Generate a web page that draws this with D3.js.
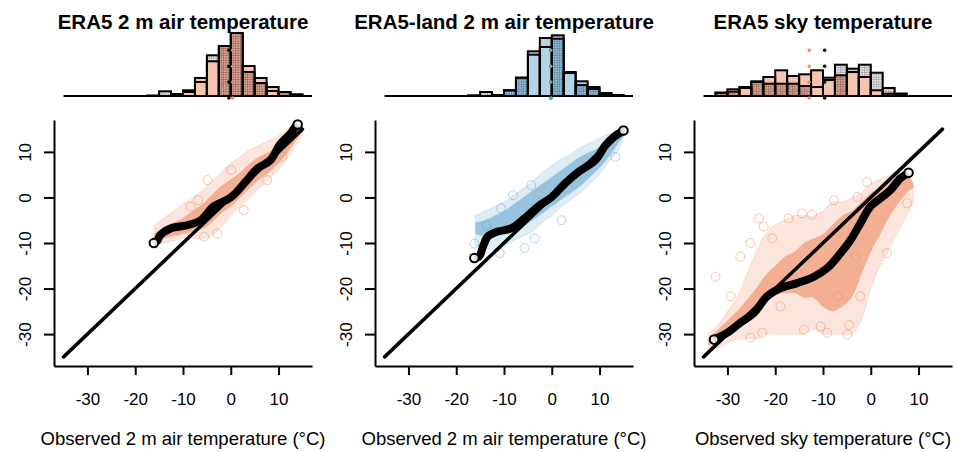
<!DOCTYPE html>
<html>
<head>
<meta charset="utf-8">
<script src="https://cdn.jsdelivr.net/npm/d3@7"></script>
<style>
body { margin: 0; background: #fff; }
text { font-family: "Liberation Sans", Arial, sans-serif; fill: #000; }
</style>
</head>
<body>
<svg id="fig" width="957" height="452"></svg>
<script>
// ---- data ----
var titles = ["ERA5 2 m air temperature", "ERA5-land 2 m air temperature", "ERA5 sky temperature"];
var xlabels = ["Observed 2 m air temperature (\u00B0C)", "Observed 2 m air temperature (\u00B0C)", "Observed sky temperature (\u00B0C)"];
var tickVals = [-30, -20, -10, 0, 10];

// histogram bins (left edges, width 2.5)
var bins12 = [-17.5, -15, -12.5, -10, -7.5, -5, -2.5, 0, 2.5, 5, 7.5, 10, 12.5];
var bins3 = [-32.5, -30, -27.5, -25, -22.5, -20, -17.5, -15, -12.5, -10, -7.5, -5, -2.5, 0, 2.5, 5];

var obsHist1  = [0.5, 4.7, 2, 4, 14, 40.7, 50, 63, 24, 13, 5, 4, 1.5];
var modHist1  = [0, 0, 1.5, 5.7, 18, 34.7, 50, 63, 30, 18, 9, 4, 1.5];
var darkHist1 = [0.5, 0, 2, 0, 0, 0, 50, 63, 24, 13, 0, 4, 1.5];

var obsHist2  = [0.7, 4, 1, 5.7, 18.3, 41.3, 49, 60.7, 23, 11, 7, 2, 1];
var modHist2  = [0, 0, 1, 5.7, 18.3, 44.7, 58, 57.3, 24, 14.7, 9, 3, 1];
var darkHist2 = [0.7, 0, 1, 5.7, 18.3, 0, 0, 57.3, 0, 11, 7, 0, 1];

var obsHist3  = [3.3, 4.3, 8, 14, 12.3, 12.3, 12.3, 10, 9, 18.3, 31.3, 27.3, 31.3, 23.3, 8, 2.3];
var modHist3  = [3.3, 6.7, 9, 14.7, 19, 25.7, 20, 21.7, 25.7, 16, 20.7, 24, 19, 5.7, 2.3, 2.3];
var darkHist3 = [3.3, 4.3, 0, 14, 12.3, 12.3, 12.3, 10, 0, 0, 20.7, 0, 0, 0, 2.3, 2.3];

// medians (observed, model)
var medObs = [-0.4, -0.2, -9.65];
var medMod = [0.4, -0.2, -12.9];

// point cloud envelopes: x, outer low, outer high, core low, core high
var cloudX1  = [-16, -14, -12, -10, -8, -6, -4, -2, 0, 2, 4, 6, 8, 10, 12, 14, 15];
var outerLo1 = [-10.5, -10, -9.5, -9, -9, -9, -8.5, -6.5, -4, -2, 0, 2, 4, 6, 9, 12, 14];
var outerHi1 = [-6, -4.5, -3, -1.5, 0, 1.5, 3.5, 5.5, 7.5, 9, 10.5, 11.5, 12.5, 13.5, 15, 16, 15.5];
var coreLo1  = [-9.5, -9, -8.5, -8, -7.5, -7, -5.5, -3.5, -2, 0, 2, 4, 5.5, 7.5, 10, 13, 14.5];
var coreHi1  = [-8, -6.5, -5.5, -4.5, -3, -1.5, 0.5, 2.5, 4, 5.5, 7.5, 9, 10, 11.5, 13.5, 15.5, 15];

var cloudX2  = [-16, -14, -12, -10, -8, -6, -4, -2, 0, 2, 4, 6, 8, 10, 12, 14, 15];
var outerLo2 = [-10.5, -11, -11.5, -10.5, -9.5, -8.5, -7.5, -5.5, -4, -2, -0.5, 1, 3, 5, 8, 10.5, 13];
var outerHi2 = [-4, -3, -2, -1, 0.5, 2, 3.5, 5.5, 7, 8.5, 9.5, 11, 12, 13, 14, 14.5, 14.5];
var coreLo2  = [-8, -8.5, -8.5, -8, -7.5, -6.5, -5, -3.5, -2, -0.5, 1, 2.5, 4.5, 6.5, 9, 12, 13.5];
var coreHi2  = [-5.5, -5, -4, -3, -1.5, 0, 1.5, 3, 4.5, 6, 7.5, 9, 10, 11, 12.5, 14, 14.5];

var cloudX3  = [-34, -32, -30, -28, -26, -24, -22, -20, -18, -16, -14, -12, -10, -8, -6, -4, -2, 0, 2, 4, 6, 8, 9];
var outerLo3 = [-33, -33, -32, -31, -31, -31, -30, -30, -30, -30, -30, -29, -30, -30, -30, -30, -27, -20, -15, -11, -7, -3, -1];
var outerHi3 = [-30, -28, -25, -22, -17, -12, -8, -6, -5, -4, -4, -4, -3, -1, -1, 0, 1, 3, 4, 5, 5.5, 4, 1];
var coreLo3  = [-32.5, -31, -29.5, -28, -27, -25, -23, -21.5, -21, -21, -22, -22, -24, -25, -24, -22, -17, -12, -8, -4, -1, 1.5, 2];
var coreHi3  = [-31, -29, -27, -25, -22.5, -20, -17, -15, -13, -12, -10, -9, -8, -6, -4, -3, -1, 1, 2, 3.5, 4.5, 4.5, 3];

// scattered single points outside the dense band
var outliers1 = [[-8.4, -2], [-2.8, -7.9], [-5.6, -8.6], [2.7, -2.8], [7.6, 3.8], [10.8, 8.9], [-6.8, -0.6], [-4.9, 3.8], [0.1, 6]];
var outliers2 = [[-16.2, -10.1], [-10.9, -12.2], [-5.7, -11.1], [-3.6, -9], [2, -5], [13.3, 8.9], [-8.1, 0.5], [-4.3, 2.7], [-13.7, -6.1], [-10.6, -2.4]];
var outliers3 = [[-32.5, -17.4], [-23.4, -4.6], [-25.2, -10], [-22.4, -6.4], [-20.6, -9], [-17.2, -4.6], [-14.4, -3.5], [-12.3, -3.8],
                 [-7.7, -0.6], [-2.8, 0.1], [-0.8, 3.4], [-3.2, -13], [-10.5, -28.3], [-9.1, -29.7], [-4.9, -30.1], [-4.5, -28],
                 [-22.7, -29.7], [-25.2, -30.8], [-14, -29], [3.4, -12.2], [7.6, -1.3], [-2.2, -21.7], [-7, -21.7], [-18.9, -23.9],
                 [-29.3, -21.7], [-27.3, -13]];

// quantile curves (observed vs model)
var qq1 = [[-16.1, -10], [-15.4, -9.5], [-14.7, -8.2], [-12.6, -6.8], [-9.1, -6.1], [-6.3, -5], [-3.6, -2], [0, 0], [3.4, 3.8],
           [5.5, 6.3], [8.3, 8.2], [10.4, 11.8], [12.5, 14], [13.5, 15.5], [14, 16]];
var qq2 = [[-16.2, -13.3], [-15.2, -13], [-14.4, -10.8], [-13.4, -8.6], [-11.3, -7.5], [-8.5, -6.8], [-5.7, -4.6], [-2.9, -2],
           [0, 0.1], [2.8, 3.1], [5.6, 5.6], [9.1, 8.2], [11.2, 11.4], [12.9, 13.2], [15, 14.7]];
var qq3 = [[-32.8, -31.2], [-30, -29.7], [-27.3, -27.5], [-24.5, -25.4], [-21.7, -21.7], [-18.9, -19.9], [-15.4, -18.8],
           [-11.9, -17.4], [-9.1, -15.5], [-6.3, -12.2], [-4.2, -9.3], [-2.2, -5.7], [-0.1, -2], [2, -0.2], [4.1, 1.6],
           [6.2, 4.2], [7.6, 5.2], [7.9, 5.4]];

var panels = [
  {left: 54,  col: "#ef8a62", bar: "#f7c4b0", hatch: "hatchBrown", bins: bins12, obs: obsHist1, mod: modHist1, dark: darkHist1,
   cx: cloudX1, oLo: outerLo1, oHi: outerHi1, cLo: coreLo1, cHi: coreHi1, out: outliers1, qq: qq1},
  {left: 375, col: "#67a9cf", bar: "#b3d4e7", hatch: "hatchBlue", bins: bins12, obs: obsHist2, mod: modHist2, dark: darkHist2,
   cx: cloudX2, oLo: outerLo2, oHi: outerHi2, cLo: coreLo2, cHi: coreHi2, out: outliers2, qq: qq2},
  {left: 694, col: "#ef8a62", bar: "#f7c4b0", hatch: "hatchBrown", bins: bins3, obs: obsHist3, mod: modHist3, dark: darkHist3,
   cx: cloudX3, oLo: outerLo3, oHi: outerHi3, cLo: coreLo3, cHi: coreHi3, out: outliers3, qq: qq3}
];

var svg = d3.select("#fig");

// hatch patterns
var defs = svg.append("defs");
function hatch(id, base, line){
  var p = defs.append("pattern").attr("id", id).attr("patternUnits", "userSpaceOnUse")
    .attr("width", 2.4).attr("height", 2.4);
  p.append("rect").attr("width", 2.4).attr("height", 2.4).attr("fill", base);
  p.append("path").attr("d", "M0,0.3H2.4M0.3,0V2.4").attr("stroke", line).attr("stroke-width", 0.6);
}
hatch("hatchGray", "#e6e6e6", "#9a9a9a");
hatch("hatchBrown", "#dca997", "#8c5a4a");
hatch("hatchBlue", "#95bcd6", "#4d7a9b");

var pw = 258, plotTop = 120, plotBottom = 366, base = 96, bw = 2.5;

panels.forEach(function(p, i){
  var x = d3.scaleLinear().domain([-37, 17]).range([p.left, p.left + pw]);
  var y = d3.scaleLinear().domain([-37, 17]).range([plotBottom, plotTop]);
  var h = d3.scaleLinear().domain([0, 65]).range([base, base - 65]);
  var g = svg.append("g");

  // title
  g.append("text").attr("x", p.left + pw / 2).attr("y", 28.5).attr("text-anchor", "middle")
    .style("font-size", "20.5px").style("font-weight", "bold").text(titles[i]);

  // ---- histograms ----
  var hist = p.bins.map(function(b, k){ return {x0: b, obs: p.obs[k], mod: p.mod[k], dark: p.dark[k]}; });
  function bars(key, fill, stroke){
    g.selectAll(null).data(hist.filter(function(d){ return d[key] > 0; })).enter().append("rect")
      .attr("x", function(d){ return x(d.x0); })
      .attr("width", x(bw) - x(0))
      .attr("y", function(d){ return h(d[key]); })
      .attr("height", function(d){ return base - h(d[key]); })
      .attr("fill", fill).attr("stroke", stroke).attr("stroke-width", 2);
  }
  bars("obs", "url(#hatchGray)", "none");
  bars("mod", p.bar, "none");
  bars("dark", "url(#" + p.hatch + ")", "none");
  bars("mod", "none", "#000");
  bars("obs", "none", "#000");

  g.append("line").attr("x1", x(-35)).attr("x2", x(17)).attr("y1", base).attr("y2", base)
    .attr("stroke", "#000").attr("stroke-width", 2);

  // median markers (dotted)
  [[medObs[i], "#000"], [medMod[i], p.col]].forEach(function(m){
    g.append("line").attr("x1", x(m[0])).attr("x2", x(m[0])).attr("y1", 98).attr("y2", 34.4)
      .attr("stroke", m[1]).attr("stroke-width", 3.6).attr("stroke-linecap", "round")
      .attr("stroke-dasharray", "0,15.9");
  });

  // ---- scatter ----
  var cloud = p.cx.map(function(v, k){ return {x: v, oLo: p.oLo[k], oHi: p.oHi[k], cLo: p.cLo[k], cHi: p.cHi[k]}; });
  var outer = d3.area().curve(d3.curveCatmullRom)
    .x(function(d){ return x(d.x); }).y0(function(d){ return y(d.oLo); }).y1(function(d){ return y(d.oHi); });
  var core = d3.area().curve(d3.curveCatmullRom)
    .x(function(d){ return x(d.x); }).y0(function(d){ return y(d.cLo); }).y1(function(d){ return y(d.cHi); });
  g.append("path").datum(cloud).attr("d", outer).attr("fill", p.col).attr("fill-opacity", 0.22)
    .attr("stroke", p.col).attr("stroke-opacity", 0.2).attr("stroke-width", 1);
  g.append("path").datum(cloud).attr("d", core).attr("fill", p.col).attr("fill-opacity", 0.6);

  g.selectAll(null).data(p.out).enter().append("circle")
    .attr("cx", function(d){ return x(d[0]); }).attr("cy", function(d){ return y(d[1]); })
    .attr("r", 4.5).attr("fill", "none").attr("stroke", p.col).attr("stroke-opacity", 0.5).attr("stroke-width", 1);

  // 1:1 line
  g.append("line").attr("x1", x(-35)).attr("y1", y(-35)).attr("x2", x(15)).attr("y2", y(15))
    .attr("stroke", "#000").attr("stroke-width", 3.5).attr("stroke-linecap", "round");

  // quantile curve: thick body, open circles at both ends
  var qline = d3.line().curve(d3.curveCatmullRom).x(function(d){ return x(d[0]); }).y(function(d){ return y(d[1]); });
  g.append("path").datum(p.qq).attr("d", qline).attr("fill", "none").attr("stroke", "#000")
    .attr("stroke-width", 8).attr("stroke-linecap", "butt").attr("stroke-linejoin", "round");
  g.selectAll(null).data([p.qq[0], p.qq[p.qq.length - 1]]).enter().append("circle")
    .attr("cx", function(d){ return x(d[0]); }).attr("cy", function(d){ return y(d[1]); })
    .attr("r", 4.3).attr("fill", "#fff").attr("fill-opacity", 0.85).attr("stroke", "#000").attr("stroke-width", 2);

  // axes
  var xa = g.append("g").attr("transform", "translate(0," + plotBottom + ")")
    .call(d3.axisBottom(x).tickValues(tickVals).tickFormat(function(d){ return String(d); })
      .tickSize(9).tickSizeOuter(0).tickPadding(18));
  xa.selectAll("text").style("font-size", "17px").attr("fill", "#000");
  var ya = g.append("g").attr("transform", "translate(" + p.left + ",0)")
    .call(d3.axisLeft(y).tickValues(tickVals).tickFormat(function(d){ return String(d); })
      .tickSize(10).tickSizeOuter(0));
  ya.selectAll("text").style("font-size", "17px").attr("fill", "#000")
    .attr("x", 0).attr("dy", "0.35em").attr("text-anchor", "middle")
    .attr("transform", "translate(-29,0) rotate(-90)");
  [xa, ya].forEach(function(a){
    a.select(".domain").attr("stroke", "#000").attr("stroke-width", 2);
    a.selectAll(".tick line").attr("stroke", "#000").attr("stroke-width", 2);
    a.attr("font-family", null);
  });

  g.append("text").attr("x", p.left + pw / 2).attr("y", 445).attr("text-anchor", "middle")
    .style("font-size", "18.5px").text(xlabels[i]);
});
</script>
</body>
</html>
